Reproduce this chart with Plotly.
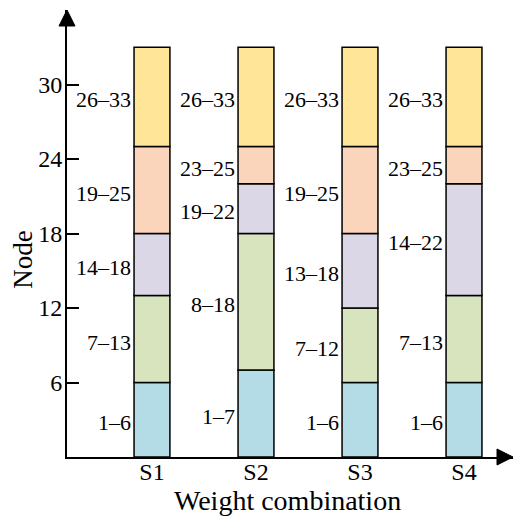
import plotly.graph_objects as go

# weight combinations and the last node of each partition (top of each band)
schemes = ["S1", "S2", "S3", "S4"]
band1_end = [6, 7, 6, 6]
band2_end = [13, 18, 12, 13]
band3_end = [18, 22, 18, 22]
band4_end = [25, 25, 25, 25]
band5_end = [33, 33, 33, 33]
y_ticks = [6, 12, 18, 24, 30]

band_colors = ["#b3dce6", "#d7e4bd", "#dcd7e7", "#fad5bb", "#ffe597"]
FONT = "Liberation Serif"

ends = [band1_end, band2_end, band3_end, band4_end, band5_end]
starts = [[0] * len(schemes)] + ends[:-1]

fig = go.Figure()

for lo, hi, color in zip(starts, ends, band_colors):
    fig.add_trace(
        go.Bar(
            x=schemes,
            y=[h - l for l, h in zip(lo, hi)],
            base=lo,
            width=0.345,
            marker=dict(color=color, line=dict(color="black", width=1.5)),
            showlegend=False,
            hoverinfo="skip",
        )
    )
    # range labels to the left of each segment
    for s, l, h in zip(schemes, lo, hi):
        fig.add_annotation(
            x=s,
            y=(l + h) / 2,
            text=f"{l + 1}–{h}",
            showarrow=False,
            xanchor="right",
            yanchor="middle",
            xshift=-19,
            yshift=-3,
            font=dict(family=FONT, size=22, color="black"),
        )

# axis titles placed by hand
fig.add_annotation(
    x=0.494, y=-0.098, xref="paper", yref="paper",
    text="Weight combination", showarrow=False,
    xanchor="center", yanchor="middle",
    font=dict(family=FONT, size=28, color="black"),
)
fig.add_annotation(
    x=-0.099, y=0.441, xref="paper", yref="paper",
    text="Node", showarrow=False, textangle=-90,
    xanchor="center", yanchor="middle",
    font=dict(family=FONT, size=27, color="black"),
)

# arrow heads on the axes (plot area is 446 x 447 px)
pw, ph = 446.0, 447.0
fig.add_shape(
    type="path",
    xref="paper",
    yref="paper",
    path=f"M 0 1 L {-8 / pw} {1 - 16 / ph} L {8 / pw} {1 - 16 / ph} Z",
    fillcolor="black",
    line=dict(color="black", width=1),
)
fig.add_shape(
    type="path",
    xref="paper",
    yref="paper",
    path=f"M 1 0 L {1 - 16 / pw} {8 / ph} L {1 - 16 / pw} {-8 / ph} Z",
    fillcolor="black",
    line=dict(color="black", width=1),
)

# page body adds an 8px margin, so the figure is 514x520
fig.update_layout(
    width=514,
    height=520,
    margin=dict(l=59, r=9, t=2, b=71, autoexpand=False),
    paper_bgcolor="white",
    plot_bgcolor="white",
    barmode="overlay",
    font=dict(family=FONT, size=24, color="black"),
    xaxis=dict(
        range=[-0.817, 3.471],
        automargin=False,
        showline=True,
        linecolor="black",
        linewidth=2,
        showgrid=False,
        ticks="",
        ticklabelstandoff=-8,
        tickfont=dict(family=FONT, size=24),
    ),
    yaxis=dict(
        range=[0, 36],
        tickvals=y_ticks,
        automargin=False,
        showline=True,
        linecolor="black",
        linewidth=2,
        showgrid=False,
        zeroline=False,
        ticks="inside",
        ticklen=12,
        tickwidth=1.5,
        tickcolor="black",
        ticklabelstandoff=-2,
        tickfont=dict(family=FONT, size=24),
    ),
)

fig.write_html("out.html")
